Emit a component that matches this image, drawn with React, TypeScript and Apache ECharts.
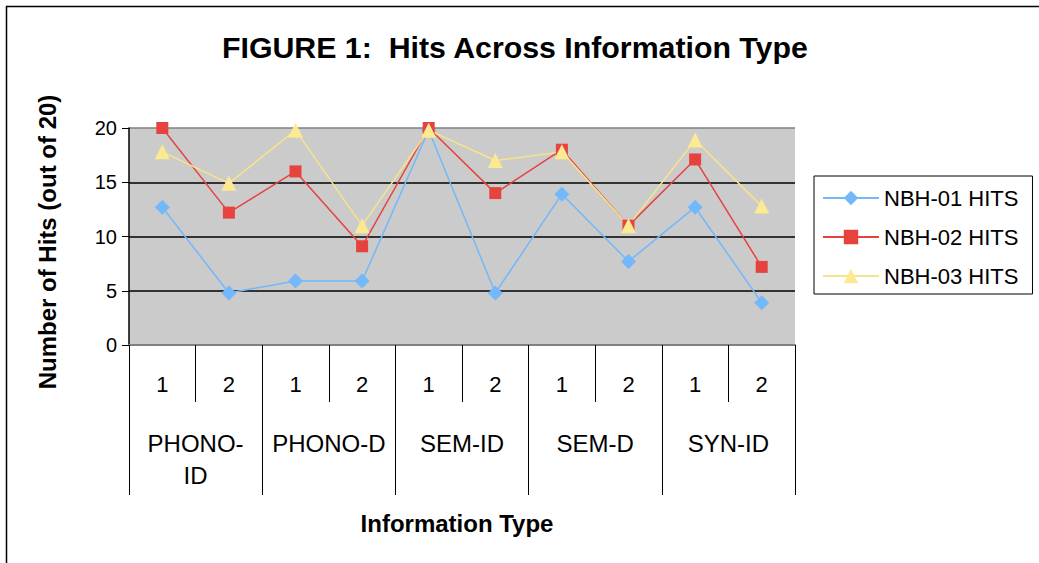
import React, { useEffect, useRef } from "react";
import * as echarts from "echarts";

const subCategories = ["1", "2", "1", "2", "1", "2", "1", "2", "1", "2"];
const groupCategories = ["PHONO-\nID", "PHONO-D", "SEM-ID", "SEM-D", "SYN-ID"];
const seriesNames = ["NBH-01 HITS", "NBH-02 HITS", "NBH-03 HITS"];
const nbh01 = [12.7, 4.8, 5.9, 5.9, 19.8, 4.8, 13.9, 7.7, 12.7, 3.9];
const nbh02 = [20, 12.2, 16, 9.1, 20, 14, 18, 11, 17.1, 7.2];
const nbh03 = [17.8, 14.9, 19.8, 11, 19.8, 17, 17.8, 11, 18.9, 12.8];
const yTicks = [0, 5, 10, 15, 20];

const FONT = "'Liberation Sans', Arial, sans-serif";

export default function App() {
  const ref = useRef<HTMLDivElement>(null);
  useEffect(() => {
    if (!ref.current) return;
    const chart = echarts.init(ref.current, undefined, { renderer: "svg" });
    const option = {
      animation: false,
      backgroundColor: "#ffffff",
      textStyle: { fontFamily: FONT },
      title: {
        text: "FIGURE 1:  Hits Across Information Type",
        left: 222,
        top: 32,
        padding: 0,
        textStyle: { fontSize: 30.3, fontWeight: "bold", color: "#000", fontFamily: FONT },
      },
      graphic: [
        {
          type: "rect",
          shape: { x: 6.5, y: 6.5, width: 1200, height: 700 },
          style: { fill: "none", stroke: "#000", lineWidth: 1.5 },
          silent: true,
        },
        {
          type: "text",
          x: 47,
          y: 242,
          rotation: Math.PI / 2,
          style: {
            text: "Number of Hits (out of 20)",
            font: `bold 24px ${FONT}`,
            fill: "#000",
            align: "center",
            verticalAlign: "middle",
          },
        },
        {
          type: "text",
          x: 457,
          y: 523,
          style: {
            text: "Information Type",
            font: `bold 24px ${FONT}`,
            fill: "#000",
            align: "center",
            verticalAlign: "middle",
          },
        },
      ],
      legend: {
        data: seriesNames,
        orient: "vertical",
        left: 814,
        top: 176,
        itemWidth: 56,
        itemHeight: 18,
        itemGap: 17,
        padding: [11, 14, 7, 8],
        borderColor: "#000",
        borderWidth: 1,
        backgroundColor: "#fff",
        textStyle: { fontSize: 22, color: "#000", fontFamily: FONT },
      },
      grid: {
        left: 129,
        top: 128,
        width: 666,
        height: 217,
        show: true,
        backgroundColor: "#cbcbcb",
        borderWidth: 0,
        containLabel: false,
      },
      xAxis: [
        {
          type: "category",
          data: subCategories,
          position: "bottom",
          boundaryGap: true,
          axisLine: { show: true, lineStyle: { color: "#808080", width: 2 } },
          axisTick: { show: true, interval: 0, length: 57, lineStyle: { color: "#000", width: 1 } },
          axisLabel: { interval: 0, fontSize: 22, color: "#000", margin: 28, fontFamily: FONT },
          splitLine: { show: false },
        },
        {
          type: "category",
          data: groupCategories,
          position: "bottom",
          boundaryGap: true,
          axisLine: { show: false },
          axisTick: { show: true, interval: 0, length: 150, lineStyle: { color: "#000", width: 1 } },
          axisLabel: { interval: 0, fontSize: 24, lineHeight: 32, color: "#000", margin: 82, fontFamily: FONT },
          splitLine: { show: false },
        },
      ],
      yAxis: {
        type: "value",
        min: yTicks[0],
        max: yTicks[yTicks.length - 1],
        interval: 5,
        axisLine: { show: true, lineStyle: { color: "#000", width: 1.5 } },
        axisTick: { show: true, length: 7, lineStyle: { color: "#000" } },
        axisLabel: { fontSize: 20, color: "#000", margin: 12, fontFamily: FONT },
        splitLine: {
          show: true,
          lineStyle: { color: ["#808080", "#000", "#000", "#000", "#808080"], width: 1.5 },
        },
      },
      series: [
        {
          name: seriesNames[0],
          type: "line",
          data: nbh01,
          symbol: "diamond",
          symbolSize: 15,
          itemStyle: { color: "#72b8fb" },
          lineStyle: { color: "#72b8fb", width: 1.5 },
        },
        {
          name: seriesNames[1],
          type: "line",
          data: nbh02,
          symbol: "rect",
          symbolSize: 12,
          itemStyle: { color: "#e6433e" },
          lineStyle: { color: "#e6433e", width: 1.5 },
        },
        {
          name: seriesNames[2],
          type: "line",
          data: nbh03,
          symbol: "triangle",
          symbolSize: 15,
          itemStyle: { color: "#fbea92" },
          lineStyle: { color: "#f7e48a", width: 1.5 },
        },
      ],
    };
    chart.setOption(option);
    return () => chart.dispose();
  }, []);
  return (
    <div
      ref={ref}
      style={{ position: "fixed", left: 0, top: 0, width: 1039, height: 563 }}
    />
  );
}
